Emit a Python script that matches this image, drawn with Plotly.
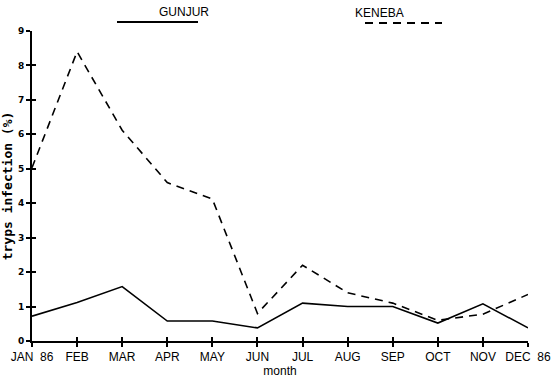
import plotly.graph_objects as go

months = ["JAN  86", "FEB", "MAR", "APR", "MAY", "JUN", "JUL", "AUG", "SEP", "OCT", "NOV", "DEC  86"]
gunjur = [0.72, 1.12, 1.58, 0.58, 0.58, 0.38, 1.10, 1.0, 1.0, 0.52, 1.08, 0.38]
keneba = [5.03, 8.40, 6.12, 4.60, 4.12, 0.80, 2.20, 1.40, 1.10, 0.60, 0.78, 1.35]
yticks = list(range(0, 10))

W, H = 552, 384
ML, MR, MT, MB = 32, 24, 31, 43

xi = list(range(len(months)))
fig = go.Figure()
fig.add_trace(go.Scatter(x=xi, y=gunjur, mode="lines", name="GUNJUR",
                         line=dict(color="black", width=1.6), cliponaxis=False))
fig.add_trace(go.Scatter(x=xi, y=keneba, mode="lines", name="KENEBA",
                         line=dict(color="black", width=1.6, dash="8px,6px"), cliponaxis=False))
# invisible trace on overlay axes for crossing ticks
fig.add_trace(go.Scatter(x=xi, y=gunjur, xaxis="x2", yaxis="y2", mode="lines",
                         line=dict(width=0), hoverinfo="skip", showlegend=False, opacity=0))

font = "Liberation Sans, Arial, sans-serif"
fig.update_layout(
    width=W, height=H,
    margin=dict(l=ML, r=MR, t=MT, b=MB, autoexpand=False),
    paper_bgcolor="white", plot_bgcolor="white",
    showlegend=False,
    font=dict(family=font, color="black", size=12),
    xaxis=dict(range=[0, 11], tickvals=xi, ticktext=months, showgrid=False, zeroline=False,
               automargin=False,
               showline=True, linecolor="black", linewidth=2, ticks="outside", ticklen=4,
               tickwidth=1.5, tickcolor="black", tickfont=dict(size=12, family=font),
               title=dict(text="month", font=dict(size=12, family=font), standoff=2)),
    yaxis=dict(range=[0, 9], tickvals=yticks, showgrid=False, zeroline=False,
               automargin=False,
               showline=True, linecolor="black", linewidth=2, ticks="outside", ticklen=4,
               tickwidth=1.5, tickcolor="black",
               tickfont=dict(size=9, family="DejaVu Sans, sans-serif", weight="bold"),
               title=dict(text="tryps infection (%)", standoff=2,
                          font=dict(size=13, family="DejaVu Sans Mono, monospace", weight="bold"))),
    xaxis2=dict(overlaying="x", matches="x", range=[0, 11], tickvals=xi, showticklabels=False,
                ticks="inside", ticklen=4, tickwidth=1.5, tickcolor="black", automargin=False,
                showgrid=False, zeroline=False, showline=False),
    yaxis2=dict(overlaying="y", matches="y", range=[0, 9], tickvals=yticks, showticklabels=False,
                ticks="inside", ticklen=4, tickwidth=1.5, tickcolor="black", automargin=False,
                showgrid=False, zeroline=False, showline=False),
)

def px(xp):
    return (xp - ML) / (W - ML - MR)
def py(yp):
    return (H - MB - yp) / (H - MT - MB)

fig.add_annotation(text="GUNJUR", x=px(157), y=py(12), xref="paper", yref="paper",
                   yanchor="middle", showarrow=False, font=dict(size=12, family=font))
fig.add_annotation(text="KENEBA", x=px(406), y=py(13), xref="paper", yref="paper",
                   yanchor="middle", showarrow=False, font=dict(size=12, family=font))
fig.add_shape(type="line", x0=px(117), x1=px(198), y0=py(22), y1=py(22), xref="paper", yref="paper",
              line=dict(color="black", width=1.8))
fig.add_shape(type="line", x0=px(365), x1=px(442), y0=py(23), y1=py(23), xref="paper", yref="paper",
              line=dict(color="black", width=1.8, dash="8px,6px"))

fig.write_html("out.html", config={"displayModeBar": False},
               post_script="document.body.style.margin='0';document.body.style.overflow='hidden';")
